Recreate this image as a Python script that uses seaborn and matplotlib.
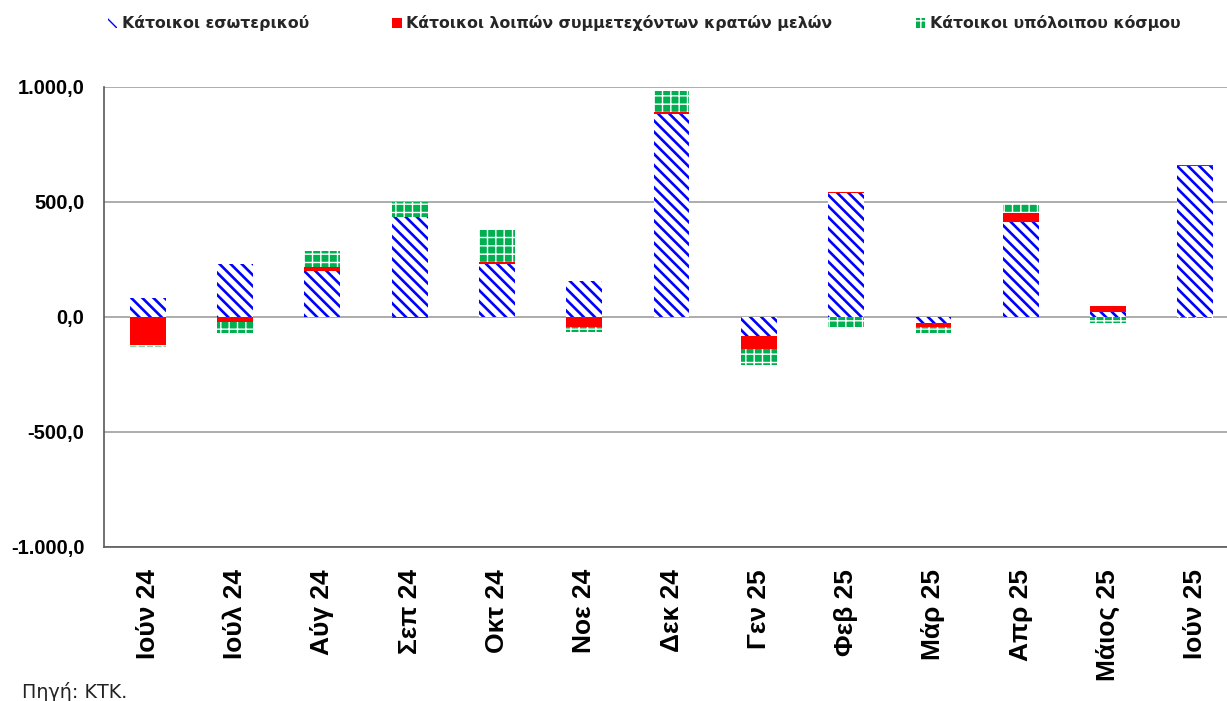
import numpy as np
import pandas as pd
import matplotlib
matplotlib.use("Agg")
import matplotlib.pyplot as plt
import matplotlib.patches as mpatches
from matplotlib.ticker import FuncFormatter
import seaborn as sns

# dados
meses = ["Ιούν 24", "Ιούλ 24", "Αύγ 24", "Σεπ 24", "Οκτ 24", "Νοε 24", "Δεκ 24",
         "Γεν 25", "Φεβ 25", "Μάρ 25", "Απρ 25", "Μάιος 25", "Ιούν 25"]
esoterikou = [81, 229, 198, 435, 229, 157, 883, -82, 538, -26, 411, 20, 657]
loipon_km = [-122, -23, 20, -5, 12, -42, 9, -57, 4, -16, 40, 28, 3]
ypoloipou = [-10, -48, 70, 65, 136, -23, 89, -68, -42, -28, 41, -26, -3]

series = ["Κάτοικοι εσωτερικού",
          "Κάτοικοι λοιπών συμμετεχόντων κρατών μελών",
          "Κάτοικοι υπόλοιπου κόσμου"]
valores = [esoterikou, loipon_km, ypoloipou]

estilos = [
    dict(color="white", edgecolor="#0000FF", hatch="\\\\\\", hlw=1.9),
    dict(color="#FF0000", edgecolor="#FF0000", hatch=None, hlw=1.0),
    dict(color="#00B050", edgecolor="white", hatch="++", hlw=1.0),
]

sns.set_theme(style="white")
plt.rcParams["font.family"] = ["Liberation Sans", "DejaVu Sans"]

fig = plt.figure(figsize=(12.27, 7.01), dpi=100)
ax = fig.add_axes([0.0848, 0.2197, 0.925, 0.6562])

pos = np.zeros(len(meses))
neg = np.zeros(len(meses))
for nome, vals, est in zip(series, valores, estilos):
    v = np.array(vals, dtype=float)
    base = np.where(v >= 0, pos, neg)
    df = pd.DataFrame({"mes": meses, "valor": v})
    sns.barplot(data=df, x="mes", y="valor", order=meses, ax=ax, errorbar=None,
                width=0.41, saturation=1, color=est["color"],
                edgecolor=est["edgecolor"], linewidth=0, hatch=est["hatch"],
                bottom=base)
    for p in ax.containers[-1]:
        if hasattr(p, "set_hatch_linewidth"):
            p.set_hatch_linewidth(est["hlw"])
    pos = pos + np.where(v >= 0, v, 0)
    neg = neg + np.where(v < 0, v, 0)

ax.set_ylim(-1000, 1000)
ax.set_xlim(-0.5, len(meses) - 0.5)
ax.set_yticks([-1000, -500, 0, 500, 1000])
ax.yaxis.set_major_formatter(FuncFormatter(
    lambda y, _: f"{y:,.1f}".replace(",", "X").replace(".", ",").replace("X", ".")))
ax.yaxis.grid(True, color="#A6A6A6", linewidth=1.3)
ax.set_axisbelow(True)
ax.set_xlabel("")
ax.set_ylabel("")

for s in ["top", "right"]:
    ax.spines[s].set_visible(False)
for s in ["left", "bottom"]:
    ax.spines[s].set_color("#595959")
    ax.spines[s].set_linewidth(1.2)

ax.set_xticks(np.arange(len(meses)))
ax.set_xticklabels(meses, rotation=90, fontsize=19, fontweight="bold", color="black")
ax.set_xticks(np.arange(-0.5, len(meses), 1), minor=True)
ax.tick_params(axis="x", which="major", length=0, pad=16)
ax.tick_params(axis="x", which="minor", length=6, width=1.2, color="#595959", direction="out")
ax.tick_params(axis="y", length=6, width=1.2, color="#595959", direction="out",
               labelsize=14.5, labelcolor="black", pad=8)
for t in ax.get_yticklabels():
    t.set_fontweight("bold")

# legenda
handles = []
for nome, est in zip(series, estilos):
    handles.append(mpatches.Patch(facecolor=est["color"], edgecolor=est["edgecolor"],
                                  hatch=est["hatch"], linewidth=0, label=nome))
fig.legend(handles=handles, loc="center", bbox_to_anchor=(0.525, 0.967), ncol=3,
           frameon=False, prop={"family": "DejaVu Sans", "weight": "bold", "size": 11.3},
           handlelength=0.6, handleheight=0.6, handletextpad=0.3, columnspacing=5.3)

fig.text(0.018, 0.004, "Πηγή: ΚΤΚ.", fontsize=13.8, color="#222222", family="DejaVu Sans")

fig.savefig("out.png", dpi=100)
